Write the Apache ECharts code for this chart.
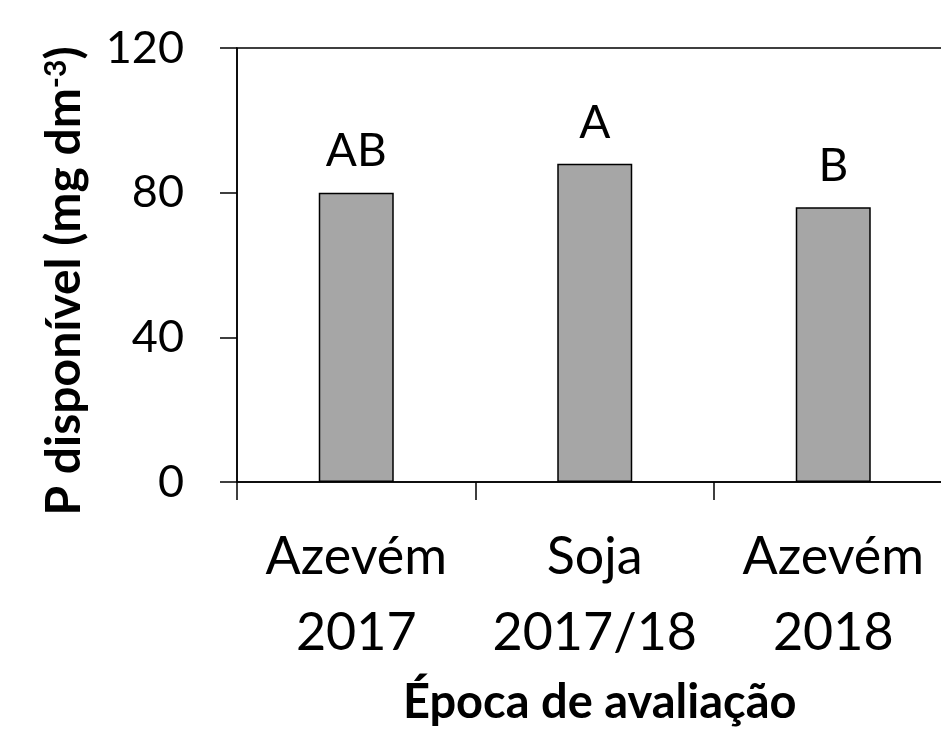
<!DOCTYPE html>
<html>
<head>
<meta charset="utf-8">
<script src="https://cdn.jsdelivr.net/npm/echarts@6/dist/echarts.min.js"></script>
<style>
  html, body { margin: 0; padding: 0; background: #fff; }
  #chart { width: 941px; height: 731px; }
</style>
</head>
<body>
<div id="chart"></div>
<script>
const categories = ['Azevém\n2017', 'Soja\n2017/18', 'Azevém\n2018'];
const values = [80, 88, 76];
const letters = ['AB', 'A', 'B'];
const yTicks = { min: 0, max: 120, interval: 40 };

const FONT = 'Lato';
const chart = echarts.init(document.getElementById('chart'), null, { renderer: 'canvas' });
chart.setOption({
  animation: false,
  backgroundColor: '#ffffff',
  grid: {
    left: 237, top: 48, height: 434, width: 715.5,
    outerBoundsMode: 'none',
    containLabel: false,
    show: true, borderColor: '#000', borderWidth: 1.5, backgroundColor: 'transparent'
  },
  xAxis: {
    type: 'category',
    data: categories,
    name: 'Época de avaliação',
    nameLocation: 'middle',
    nameGap: 197,
    nameTextStyle: { fontFamily: FONT, fontWeight: 'bold', fontSize: 47, color: '#000', lineHeight: 47, padding: [0, 0, 0, 10] },
    axisLine: { lineStyle: { color: '#000', width: 1.5 } },
    axisTick: { show: true, length: 18, alignWithLabel: false, lineStyle: { color: '#000', width: 1.5 } },
    axisLabel: { fontFamily: FONT, fontSize: 52, color: '#000', margin: 37, lineHeight: 76, interval: 0 },
    splitLine: { show: false }
  },
  yAxis: {
    type: 'value',
    min: yTicks.min, max: yTicks.max, interval: yTicks.interval,
    name: 'P disponível (mg dm{sup|-3})',
    nameLocation: 'middle',
    nameRotate: 90,
    nameGap: 148,
    nameTextStyle: {
      fontFamily: FONT, fontWeight: 'bold', fontSize: 48, color: '#000', lineHeight: 48,
      padding: [0, 32, 0, 0],
      rich: {
        sup: { fontFamily: FONT, fontWeight: 'bold', fontSize: 30, lineHeight: 30, verticalAlign: 'top', color: '#000' }
      }
    },
    axisLine: { show: true, lineStyle: { color: '#000', width: 1.5 } },
    axisTick: { show: true, length: 17, lineStyle: { color: '#000', width: 1.5 } },
    axisLabel: { fontFamily: FONT, fontSize: 45, color: '#000', margin: 53 },
    splitLine: { show: false }
  },
  series: [{
    type: 'bar',
    data: values,
    barWidth: 75,
    itemStyle: { color: '#a6a6a6', borderColor: '#000', borderWidth: 1.5 },
    label: {
      show: true,
      position: 'top',
      distance: 18,
      fontFamily: FONT,
      fontSize: 46,
      color: '#000',
      formatter: (p) => letters[p.dataIndex]
    }
  }]
});
</script>
</body>
</html>
